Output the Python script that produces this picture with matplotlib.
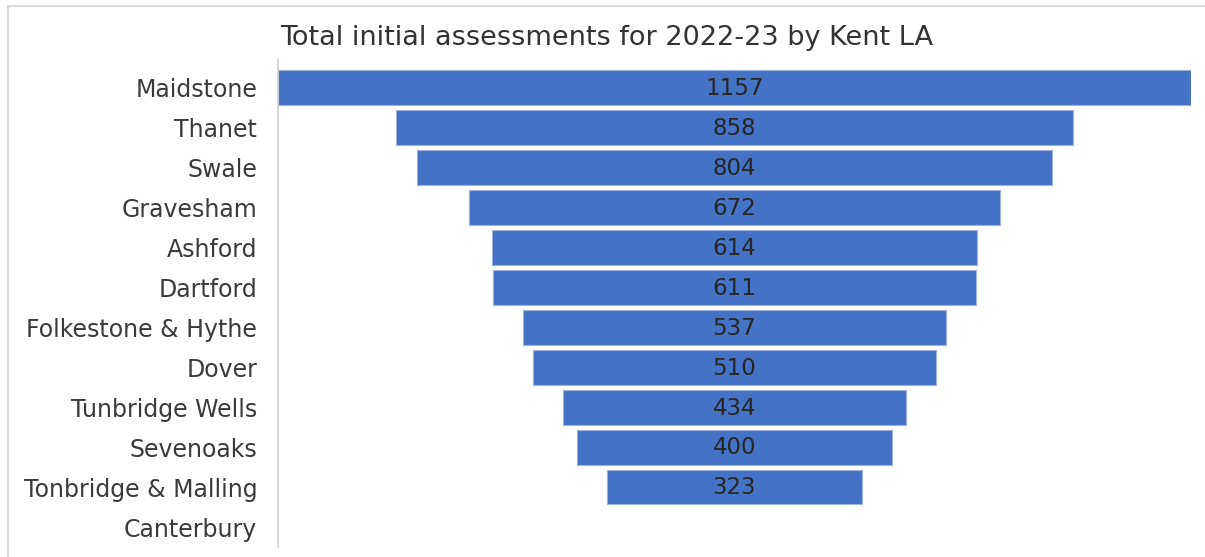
import matplotlib
matplotlib.use("Agg")
import matplotlib.pyplot as plt
from matplotlib.patches import Rectangle

plt.rcParams["font.family"] = ["DejaVu Sans"]

districts = ["Maidstone", "Thanet", "Swale", "Gravesham", "Ashford", "Dartford",
             "Folkestone & Hythe", "Dover", "Tunbridge Wells", "Sevenoaks",
             "Tonbridge & Malling", "Canterbury"]
assessments = [1157, 858, 804, 672, 614, 611, 537, 510, 434, 400, 323, 0]

W, H = 1205, 557
fig = plt.figure(figsize=(W / 100, H / 100), dpi=100)
fig.patch.set_facecolor("white")

# outer frame
fig.patches.append(Rectangle((8 / W, -0.1), 1.2, (H - 6) / H + 0.1,
                             transform=fig.transFigure, fill=False,
                             edgecolor="#d9d9d9", linewidth=1.5))

left, right = 278 / W, 1191 / W
top, bottom = 59 / H, 547 / H
ax = fig.add_axes([left, 1 - bottom, right - left, bottom - top])

peak = max(assessments)
ys = list(range(len(districts)))
shown = [(y, v) for y, v in zip(ys, assessments) if v > 0]
ax.barh([y for y, _ in shown], [v for _, v in shown],
        left=[-v / 2 for _, v in shown], height=0.87, color="#4472C4",
        edgecolor="#9db3e0", linewidth=0.8)
for y, v in shown:
    ax.text(0, y + 0.02, str(v), ha="center", va="center", fontsize=16.5,
            color="#262626")

ax.set_xlim(-peak / 2, peak / 2)
ax.set_ylim(11.5, -0.72)
ax.set_yticks(ys)
ax.set_yticklabels(districts, fontsize=17, color="#3a3a3a")
ax.tick_params(axis="y", length=0, pad=15)
ax.set_xticks([])
for s in ["top", "right", "bottom"]:
    ax.spines[s].set_visible(False)
ax.spines["left"].set_color("#d0d0d0")
ax.spines["left"].set_linewidth(1.2)

fig.text(607 / W, 1 - 38 / H, "Total initial assessments for 2022-23 by Kent LA",
         ha="center", va="center", fontsize=19.5, color="#333333")

fig.savefig("out.png", dpi=100)
